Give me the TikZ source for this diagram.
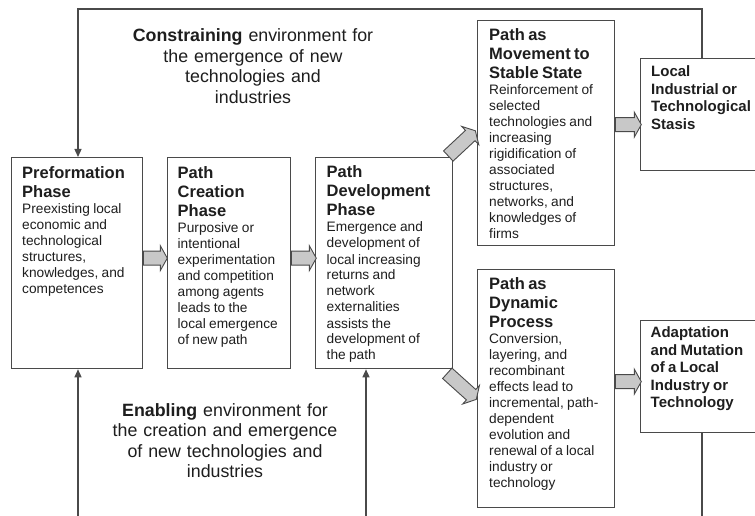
\documentclass[tikz,border=0pt]{standalone}
\usepackage{fontspec}
\setmainfont{Liberation Sans}
\usetikzlibrary{calc,arrows.meta}
\definecolor{linec}{HTML}{4A4A4A}
\definecolor{fatfill}{HTML}{C8C8C8}
\definecolor{txt}{HTML}{1E1E1E}
\newcommand\boxtitle{\fontsize{16.5}{19}\selectfont\bfseries}
\newcommand\boxbody{\fontsize{13.7}{16}\selectfont\mdseries}
\newcommand\outcometitle{\fontsize{15}{17.5}\selectfont\bfseries}
\newcommand\fatarr[3]{\draw[fatarrow, shift={#1}, rotate=#2] (0pt,7pt) -- ({#3pt-7pt},7pt) -- ({#3pt-7pt},12.5pt) -- (#3pt,0pt) -- ({#3pt-7pt},-12.5pt) -- ({#3pt-7pt},-7pt) -- (0pt,-7pt) -- cycle;}
\tikzset{
  box/.style={draw=linec, line width=1.3pt, fill=white, inner sep=0pt, anchor=north west},
  fatarrow/.style={draw=linec, fill=fatfill, line width=0.9pt, line join=miter},
  conn/.style={draw=linec, line width=1.3pt},
  tipend/.style={-{Triangle[length=8pt,width=7pt]}},
  boxtext/.style={anchor=base west, inner sep=0pt, text width=140pt, align=left, text=txt},
  envtext/.style={anchor=base, inner sep=0pt, text width=300pt, align=center, text=txt, font=\fontsize{17.8}{20.6}\selectfont},
}
\begin{document}
\begin{tikzpicture}[x=1pt, y=-1pt]
\useasboundingbox (0,0) rectangle (755,516);
\clip (0,0) rectangle (755,516);
\fill[white] (0,0) rectangle (755,516);

% boxes
\node[box, minimum width=131pt, minimum height=211pt] (pre) at (11,157) {};
\node[box, minimum width=123pt, minimum height=211pt] (cre) at (167,157) {};
\node[box, minimum width=137pt, minimum height=211pt] (dev) at (315,157) {};
\node[box, minimum width=137pt, minimum height=225pt] (mov) at (477,20) {};
\node[box, minimum width=137pt, minimum height=238pt] (dyn) at (477,269) {};
\node[box, minimum width=130pt, minimum height=112pt] (loc) at (640,58) {};
\node[box, minimum width=130pt, minimum height=112pt] (ada) at (640,320) {};

% thin connectors
\coordinate (tl) at (78,9);
\coordinate (tr) at (702,9);
\draw[conn, tipend] (loc.north -| tr) -- (tr) -- (tl) -- (pre.north -| tl);
\coordinate (bl) at (78,520);
\coordinate (bm) at (366,520);
\coordinate (br) at (702,520);
\draw[conn, tipend] (bl) -- (pre.south -| bl);
\draw[conn, tipend] (bm) -- (dev.south -| bm);
\draw[conn] (ada.south -| br) -- (br);

% box texts
\node[boxtext] (preT) at ($(pre.north west)+(11pt,-21.5pt)$) {\boxtitle Preformation\\Phase\par\boxbody Preexisting local\\economic and\\technological\\structures,\\knowledges, and\\competences\par};
\node[boxtext] (creT) at ($(cre.north west)+(10.5pt,-21.5pt)$) {\boxtitle Path\\Creation\\Phase\par\boxbody Purposive or\\intentional\\experimentation\\and competition\\among agents\\leads to the\\local emergence\\of new path\par};
\node[boxtext] (devT) at ($(dev.north west)+(11.5pt,-21pt)$) {\boxtitle Path\\Development\\Phase\par\boxbody Emergence and\\development of\\local increasing\\returns and\\network\\externalities\\assists the\\development of\\the path\par};
\node[boxtext] (movT) at ($(mov.north west)+(12pt,-20.5pt)$) {\boxtitle Path as\\Movement to\\Stable State\par\boxbody Reinforcement of\\selected\\technologies and\\increasing\\rigidification of\\associated\\structures,\\networks, and\\knowledges of\\firms\par};
\node[boxtext] (dynT) at ($(dyn.north west)+(12pt,-20.5pt)$) {\boxtitle Path as\\Dynamic\\Process\par\boxbody Conversion,\\layering, and\\recombinant\\effects lead to\\incremental, path-\\dependent\\evolution and\\renewal of a local\\industry or\\technology\par};
\node[boxtext] (locT) at ($(loc.north west)+(11pt,-19pt)$) {\outcometitle Local\\Industrial or\\Technological\\Stasis\par};
\node[boxtext] (adaT) at ($(ada.north west)+(10.5pt,-17.5pt)$) {\outcometitle Adaptation\\and Mutation\\of a Local\\Industry or\\Technology\par};

% environment texts
\node[envtext] (cons) at (253,41.5) {\textbf{Constraining} environment for\\the emergence of new\\technologies and\\industries};
\node[envtext] (enab) at (225,416) {\textbf{Enabling} environment for\\the creation and emergence\\of new technologies and\\industries};

% fat arrows
\fatarr{($(pre.east)+(0pt,5pt)$)}{0}{24}
\fatarr{($(cre.east)+(0pt,5pt)$)}{0}{25}
\fatarr{($(dev.north east)+(-5pt,1pt)$)}{43}{37}
\fatarr{($(dev.south east)+(-6pt,-4pt)$)}{-42}{39}
\fatarr{($(mov.east)+(0pt,8.5pt)$)}{0}{26}
\fatarr{($(dyn.east)+(0pt,7pt)$)}{0}{26}
\end{tikzpicture}
\end{document}
